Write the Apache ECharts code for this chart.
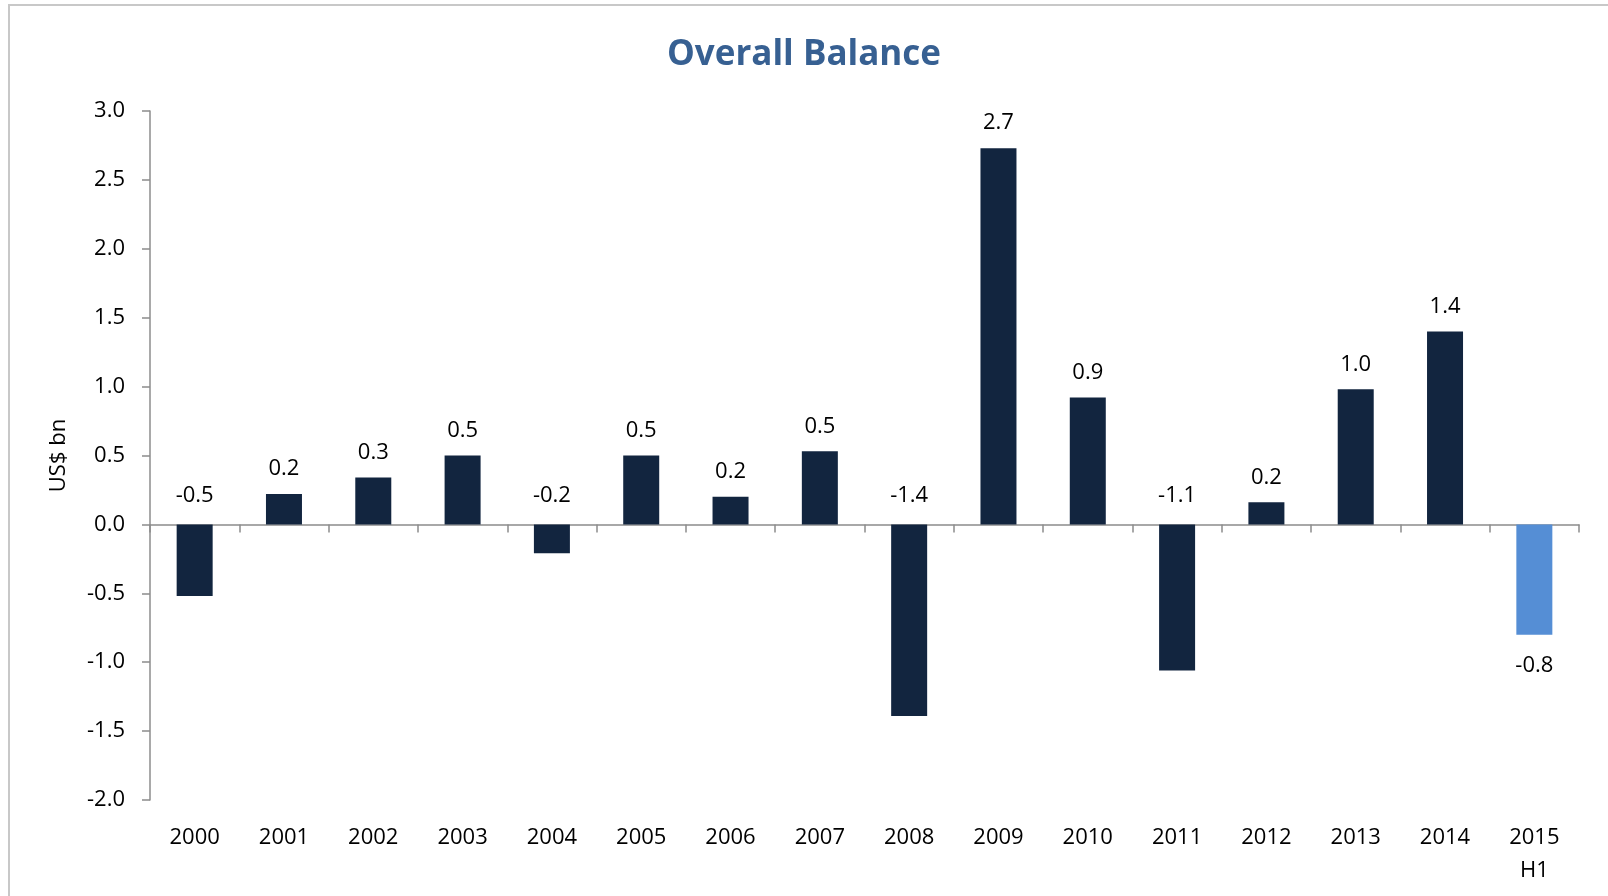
<!DOCTYPE html>
<html>
<head>
<meta charset="utf-8">
<title>Overall Balance</title>
<script src="https://cdn.jsdelivr.net/npm/echarts@6/dist/echarts.min.js"></script>
<style>
    html, body { margin: 0; padding: 0; background: #fff; }
    #chart { width: 1608px; height: 896px; }
</style>
</head>
<body>
<div id="chart"></div>
<script type="text/javascript">
    // data
    var years = ['2000', '2001', '2002', '2003', '2004', '2005', '2006', '2007',
                 '2008', '2009', '2010', '2011', '2012', '2013', '2014', '2015\nH1'];
    var balance = [-0.52, 0.22, 0.34, 0.50, -0.21, 0.50, 0.20, 0.53,
                   -1.39, 2.73, 0.92, -1.06, 0.16, 0.98, 1.40, -0.80];
    var yTicks = { min: -2.0, max: 3.0, step: 0.5 };

    var dark = '#12253f';
    var light = '#558ed5';
    var axisGrey = '#8c8c8c';
    var font = 'Open Sans';

    var barData = balance.map(function (v, i) {
        var last = i === balance.length - 1;
        return {
            value: v,
            itemStyle: { color: last ? light : dark },
            label: { position: last ? 'bottom' : 'top', distance: last ? 20 : (v < 0 ? 18 : 14) }
        };
    });

    var myChart = echarts.init(document.getElementById('chart'));
    var option = {
        animation: false,
        backgroundColor: '#fff',
        title: {
            text: 'Overall Balance',
            left: 'center',
            top: 33,
            textStyle: { fontFamily: font, fontWeight: 'bold', fontSize: 35, color: '#376092' }
        },
        graphic: [{
            type: 'rect',
            shape: { x: 9, y: 5, width: 1700, height: 1000 },
            style: { fill: 'none', stroke: '#c8c8c8', lineWidth: 2 },
            silent: true
        }],
        grid: { left: 150, right: 29, top: 111, bottom: 96 },
        xAxis: [
            {
                type: 'category',
                data: years,
                position: 'bottom',
                axisLine: { onZero: true, lineStyle: { color: axisGrey, width: 1.5 } },
                axisTick: { show: true, length: 8, lineStyle: { color: axisGrey, width: 1.5 } },
                axisLabel: { show: false }
            },
            {
                type: 'category',
                data: years,
                position: 'bottom',
                axisLine: { show: false, onZero: false },
                axisTick: { show: false },
                axisLabel: {
                    margin: 21,
                    fontFamily: font,
                    fontSize: 22,
                    color: '#000',
                    lineHeight: 33
                }
            }
        ],
        yAxis: {
            type: 'value',
            min: yTicks.min,
            max: yTicks.max,
            interval: yTicks.step,
            name: 'US$ bn',
            nameLocation: 'middle',
            nameGap: 80,
            nameTextStyle: { fontFamily: font, fontSize: 22, color: '#000' },
            axisLine: { show: true, lineStyle: { color: axisGrey, width: 1.5 } },
            axisTick: { show: true, length: 8, lineStyle: { color: axisGrey, width: 1.5 } },
            splitLine: { show: false },
            axisLabel: {
                margin: 25,
                fontFamily: font,
                fontSize: 22,
                color: '#000',
                formatter: function (v) { return v.toFixed(1); }
            }
        },
        series: [{
            type: 'bar',
            xAxisIndex: 0,
            barWidth: 36,
            data: barData,
            label: {
                show: true,
                fontFamily: font,
                fontSize: 22,
                color: '#000',
                formatter: function (p) { return p.value.toFixed(1); }
            }
        }]
    };

    myChart.setOption(option);
</script>
</body>
</html>
